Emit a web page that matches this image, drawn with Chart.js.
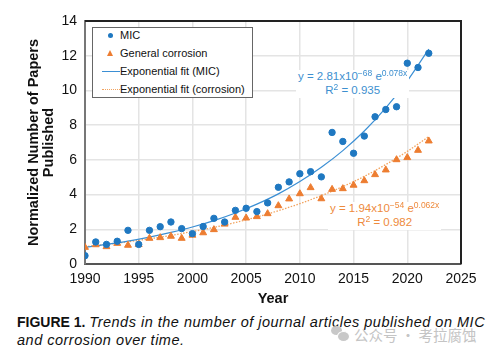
<!DOCTYPE html>
<html>
<head>
<meta charset="utf-8">
<script src="https://cdn.jsdelivr.net/npm/chart.js@4/dist/chart.umd.min.js"></script>
<style>
  html, body { margin:0; padding:0; background:#fff; }
  #wrap { position:relative; width:492px; height:356px; overflow:hidden; font-family:"Liberation Sans", Arial, sans-serif; }
  #cv { position:absolute; left:0; top:0; }
  .legend { position:absolute; left:92px; top:27px; width:159px; height:69px; border:1.3px solid #666; background:#fff; }
  .li { position:absolute; left:27px; font-size:11px; color:#111; line-height:13px; white-space:nowrap; }
  .sym { position:absolute; }
  .ann { position:absolute; font-size:11.5px; line-height:13px; white-space:nowrap; background:#fff; text-align:center; }
  .ann .s { font-size:8.5px; position:relative; top:-4.5px; }
  .cap { position:absolute; left:17px; top:313px; font-size:14px; line-height:18px; color:#111; white-space:nowrap; }
  .cap i { font-size:14.5px; letter-spacing:0.5px; }
  .wm { position:absolute; left:354px; top:324px; font-family:"Noto Sans CJK SC", sans-serif; font-size:14.5px; color:#c4c4c4; white-space:nowrap; }
  .ic1 { position:absolute; left:331px; top:326px; width:11px; height:9px; border-radius:50%; background:#c8c8c8; }
  .ic2 { position:absolute; left:337px; top:331px; width:11px; height:9px; border-radius:50%; background:#c8c8c8; border:1px solid #fff; }
</style>
</head>
<body>
<div id="wrap">
  <canvas id="cv" width="492" height="310"></canvas>
  <div class="legend">
    <div class="sym" style="left:15px;top:5px;width:5px;height:5px;border-radius:50%;background:#1f78c1;"></div>
    <div class="li" style="top:1px;">MIC</div>
    <div class="sym" style="left:14px;top:22px;width:0;height:0;border-left:3.5px solid transparent;border-right:3.5px solid transparent;border-bottom:6px solid #ed7d31;"></div>
    <div class="li" style="top:19px;">General corrosion</div>
    <div class="sym" style="left:9px;top:42.5px;width:18px;border-top:1.3px solid #3b8fd4;"></div>
    <div class="li" style="top:37px;">Exponential fit (MIC)</div>
    <div class="sym" style="left:9px;top:60.5px;width:18px;border-top:1.3px dotted #f2a35e;"></div>
    <div class="li" style="top:55px;">Exponential fit (corrosion)</div>
  </div>
  <div class="ann" style="left:296px;top:70px;color:#3d8fcf;padding:0 2px;">
    y = 2.81x10<span class="s">−68</span> e<span class="s">0.078x</span><br>R<span class="s">2</span> = 0.935
  </div>
  <div class="ann" style="left:328px;top:202px;color:#ee8a3c;padding:0 2px;">
    y = 1.94x10<span class="s">−54</span> e<span class="s">0.062x</span><br>R<span class="s">2</span> = 0.982
  </div>
  <div class="cap"><b>FIGURE 1.</b> <i>Trends in the number of journal articles published on MIC<br>and corrosion over time.</i></div>
  <div class="ic1"></div><div class="ic2"></div>
  <div class="wm">公众号 · 考拉腐蚀</div>
</div>
<script>
const years = [1990,1991,1992,1993,1994,1995,1996,1997,1998,1999,2000,2001,2002,2003,2004,2005,2006,2007,2008,2009,2010,2011,2012,2013,2014,2015,2016,2017,2018,2019,2020,2021,2022];
const micValues = [0.48,1.27,1.13,1.31,1.94,1.13,1.94,2.15,2.42,2.04,1.75,2.16,2.63,2.42,3.09,3.21,3.02,3.52,4.42,4.73,5.2,5.32,5.02,7.58,7.06,6.38,7.37,8.48,8.9,9.06,11.57,11.32,12.14];
const corrosionValues = [0.96,1.11,1.0,1.19,1.08,1.12,1.48,1.52,1.6,1.48,1.66,1.8,1.98,2.3,2.69,2.65,2.73,2.9,3.36,3.75,4.05,4.4,3.76,4.3,4.34,4.54,4.8,5.15,5.42,6.01,6.13,6.55,7.09];
const fitYears = [1990,1992,1994,1996,1998,2000,2002,2004,2006,2008,2010,2012,2014,2016,2018,2020,2022];
const micFit = [0.96,1.13,1.32,1.55,1.82,2.13,2.50,2.94,3.45,4.04,4.75,5.57,6.53,7.66,8.99,10.55,12.38];
const corrosionFit = [1.0,1.13,1.28,1.45,1.65,1.87,2.11,2.39,2.71,3.07,3.48,3.94,4.46,5.05,5.73,6.49,7.34];
const xTicks = [1990,1995,2000,2005,2010,2015,2020,2025];
const yTicks = [0,2,4,6,8,10,12,14];

const pts = (xs, ys) => xs.map((x, i) => ({x, y: ys[i]}));

const frame = {
  id: 'frame',
  afterDraw(chart) {
    const a = chart.chartArea, ctx = chart.ctx;
    ctx.save();
    ctx.strokeStyle = '#222';
    ctx.lineWidth = 2;
    ctx.beginPath();
    ctx.moveTo(a.left, a.top); ctx.lineTo(a.right, a.top); ctx.lineTo(a.right, a.bottom);
    ctx.stroke();
    ctx.restore();
  }
};

new Chart(document.getElementById('cv'), {
  type: 'scatter',
  data: {
    datasets: [
      { label: 'MIC', data: pts(years, micValues), backgroundColor: '#1f78c1', borderColor: '#1f78c1', pointRadius: 3.2, pointStyle: 'circle', order: 0 },
      { label: 'General corrosion', data: pts(years, corrosionValues), backgroundColor: '#ed7d31', borderColor: '#ed7d31', pointRadius: 4, pointStyle: 'triangle', order: 0 },
      { label: 'Exponential fit (MIC)', type: 'line', data: pts(fitYears, micFit), borderColor: '#3b8fd4', borderWidth: 1.2, pointRadius: 0, cubicInterpolationMode: 'monotone', fill: false, order: 1 },
      { label: 'Exponential fit (corrosion)', type: 'line', data: pts(fitYears, corrosionFit), borderColor: '#f2a35e', borderWidth: 1.3, borderDash: [1.5, 1.5], pointRadius: 0, cubicInterpolationMode: 'monotone', fill: false, order: 1 }
    ]
  },
  options: {
    responsive: false,
    animation: false,
    layout: { padding: { left: 0, right: 31, top: 21, bottom: 0 } },
    plugins: { legend: { display: false }, tooltip: { enabled: false } },
    scales: {
      x: {
        type: 'linear', min: 1990, max: 2025,
        afterBuildTicks: s => { s.ticks = xTicks.map(v => ({value: v})); },
        afterFit: s => { s.height = 46; },
        grid: { color: '#e4e4e4', lineWidth: 1.5, drawTicks: false },
        border: { color: '#555', width: 2 },
        ticks: { padding: 7, color: '#111', font: { family: 'Liberation Sans', size: 14 }, maxRotation: 0, callback: v => String(v) },
        title: { display: true, text: 'Year', color: '#111', padding: { top: 0, bottom: 2 }, font: { family: 'Liberation Sans', size: 14.5, weight: 'bold', lineHeight: 1.2 } }
      },
      y: {
        min: 0, max: 14,
        afterBuildTicks: s => { s.ticks = yTicks.map(v => ({value: v})); },
        afterFit: s => { s.width = 85; },
        grid: { color: '#e4e4e4', lineWidth: 1.5, drawTicks: false },
        border: { color: '#777', width: 2 },
        ticks: { padding: 8, color: '#111', font: { family: 'Liberation Sans', size: 14 }, callback: v => String(v) },
        title: { display: true, text: ['Normalized Number of Papers', 'Published'], color: '#111', padding: { top: 27, bottom: 0 }, font: { family: 'Liberation Sans', size: 14.5, weight: 'bold', lineHeight: 1.0 } }
      }
    }
  },
  plugins: [frame]
});
</script>
</body>
</html>
